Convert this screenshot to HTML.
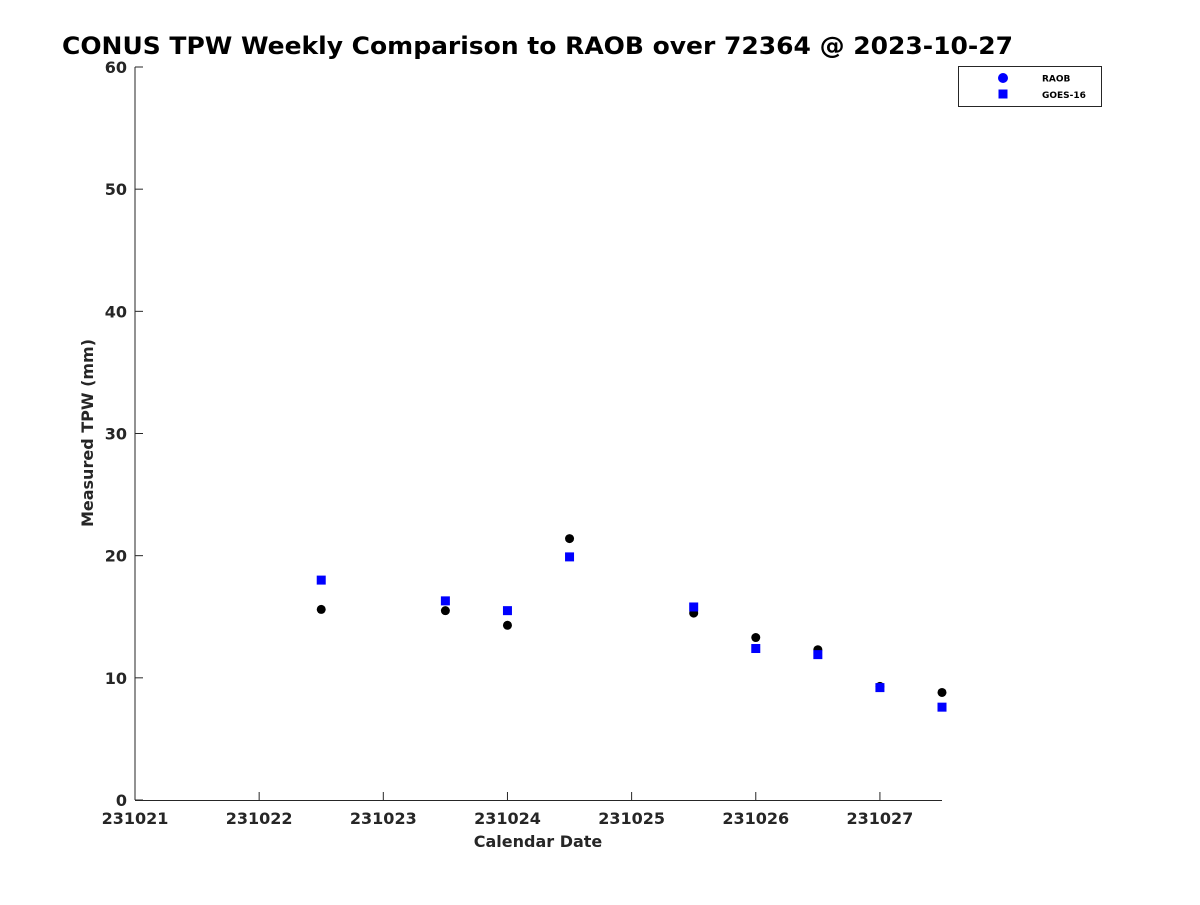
<!DOCTYPE html>
<html><head><meta charset="utf-8"><style>
body{margin:0;background:#fff;}
svg text{font-family:"DejaVu Sans","Liberation Sans",sans-serif;}
</style></head><body>
<svg id="chart" width="1200" height="900" xmlns="http://www.w3.org/2000/svg">
<text x="62" y="54" font-size="24" font-weight="bold" fill="#000" textLength="951" lengthAdjust="spacingAndGlyphs">CONUS TPW Weekly Comparison to RAOB over 72364 @ 2023-10-27</text>
<g id="axes"></g>
<g id="marks"></g>
<text x="538" y="847" font-size="16" font-weight="bold" fill="#262626" text-anchor="middle">Calendar Date</text>
<text transform="translate(93,433) rotate(-90)" font-size="16" font-weight="bold" fill="#262626" text-anchor="middle">Measured TPW (mm)</text>
<g>
<rect x="958.5" y="66.5" width="143" height="40" fill="#fff" stroke="#262626" stroke-width="1"/>
<circle cx="1003" cy="78" r="5" fill="#0000ff"/>
<text x="1042" y="81.5" font-size="9" font-weight="bold" fill="#000">RAOB</text>
<rect x="998.5" y="89.5" width="9" height="9" fill="#0000ff"/>
<text x="1042" y="98" font-size="9" font-weight="bold" fill="#000">GOES-16</text>
</g>
</svg>
<script>
const xTicks = ["231021","231022","231023","231024","231025","231026","231027"];
const yTicks = [0,10,20,30,40,50,60];
const days = [1.5,2.5,3.0,3.5,4.5,5.0,5.5,6.0,6.5];
const raob = [15.6,15.5,14.3,21.4,15.3,13.3,12.3,9.3,8.8];
const goes = [18.0,16.3,15.5,19.9,15.8,12.4,11.9,9.2,7.6];
const NS="http://www.w3.org/2000/svg";
const X0=135, X1=942, D0=0, D1=6.5, Y0=800, Y1=67, V0=0, V1=60;
const sx=d=>X0+(d-D0)/(D1-D0)*(X1-X0);
const sy=v=>Y0-(v-V0)/(V1-V0)*(Y0-Y1);
function mk(tag,attrs,parent){const e=document.createElementNS(NS,tag);for(const k in attrs)e.setAttribute(k,attrs[k]);parent.appendChild(e);return e;}
const ax=document.getElementById('axes'), mg=document.getElementById('marks');
let l=mk('line',{x1:X0,y1:Y1,x2:X0,y2:Y0,stroke:'#262626','stroke-width':1},ax);


l=mk('line',{x1:X0,y1:Y0+0.5,x2:X1,y2:Y0+0.5,stroke:'#262626','stroke-width':1},ax);


xTicks.forEach((t,i)=>{const x=sx(i);
 const tk=mk('line',{x1:x,y1:Y0,x2:x,y2:Y0-8,stroke:'#262626'},ax);
 
 
 const tx=mk('text',{x:x,y:Y0+24,'font-size':16,'font-weight':'bold',fill:'#262626','text-anchor':'middle'},ax);
 tx.textContent=t;
 
 
});
yTicks.forEach(v=>{const y=sy(v);
 const tk=mk('line',{x1:X0,y1:y,x2:X0+8,y2:y,stroke:'#262626'},ax);
 
 
 const tx=mk('text',{x:X0-8,y:y+6,'font-size':16,'font-weight':'bold',fill:'#262626','text-anchor':'end'},ax);
 tx.textContent=v;
 
 
});
days.forEach((d,i)=>{
 const c=mk('circle',{cx:sx(d),cy:sy(raob[i]),r:4.5,fill:'#000'},mg);
 
 
});
days.forEach((d,i)=>{
 const r=mk('rect',{x:sx(d)-4.5,y:sy(goes[i])-4.5,width:9,height:9,fill:'#0000ff'},mg);
 
 
});
</script>
</body></html>
